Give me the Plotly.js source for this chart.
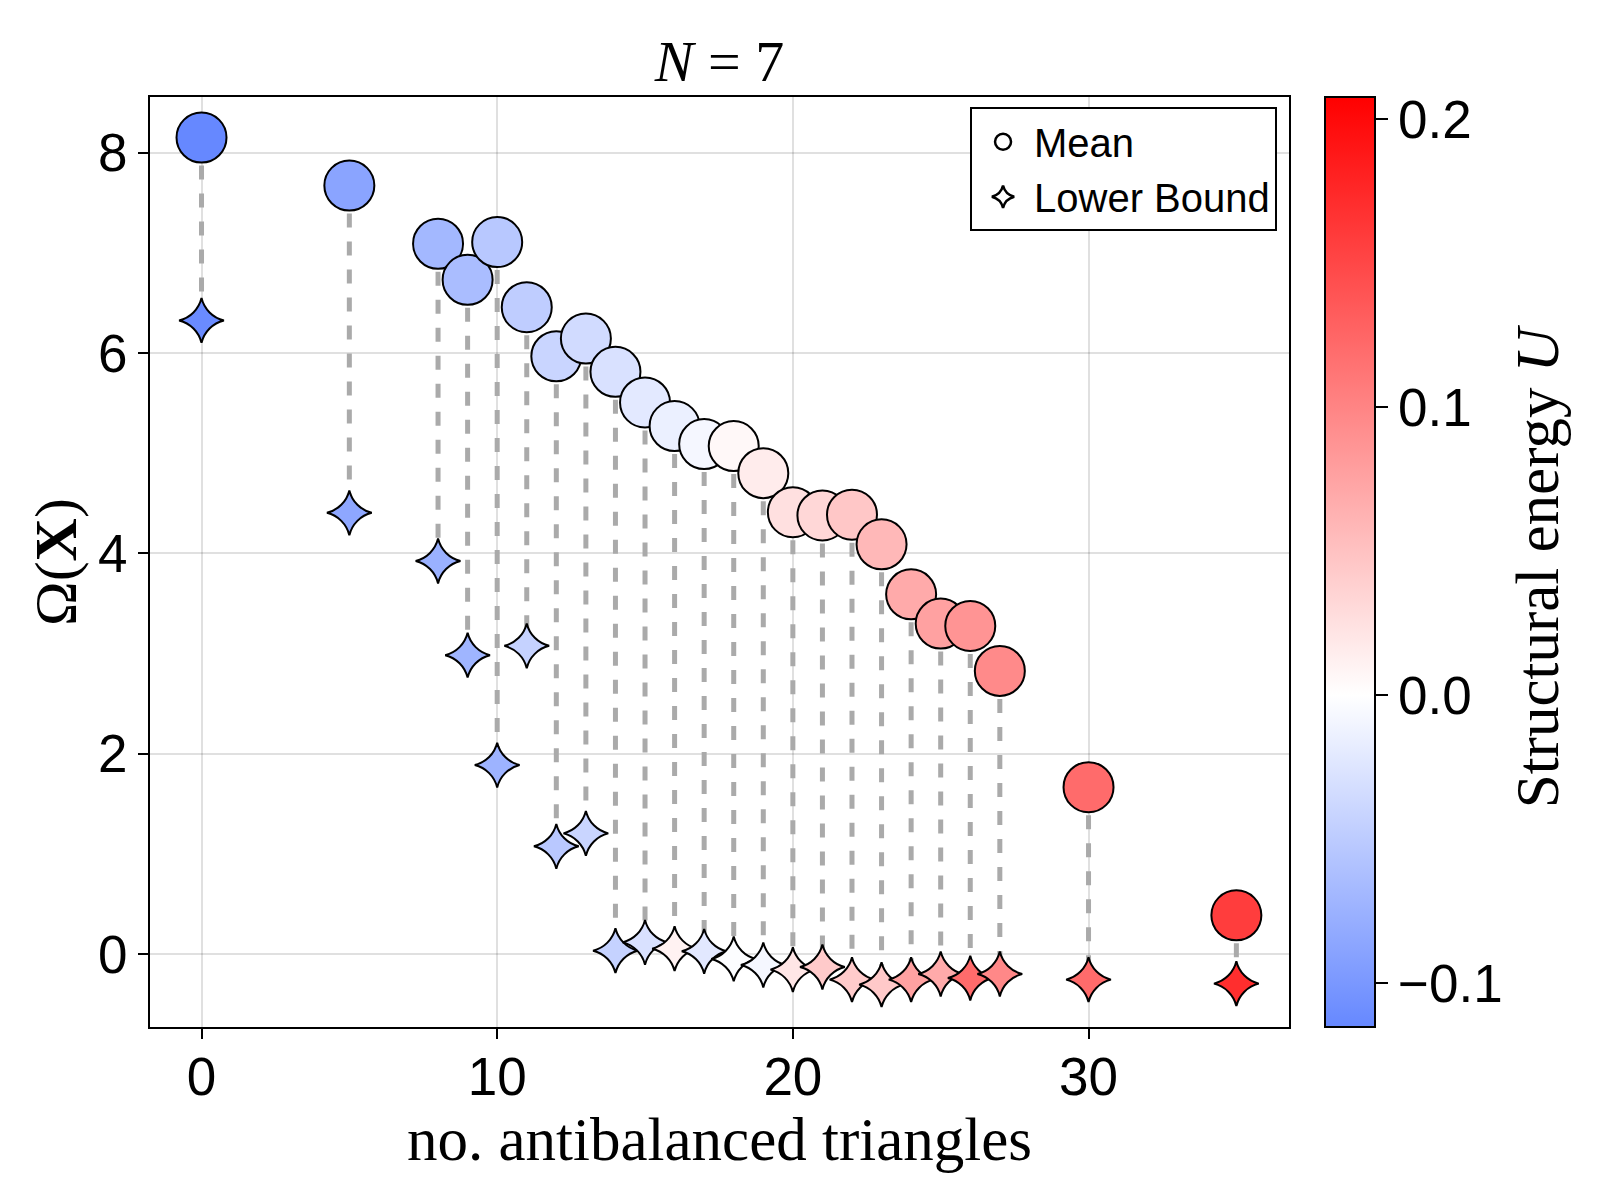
<!DOCTYPE html>
<html>
<head>
<meta charset="utf-8">
<script src="https://cdn.plot.ly/plotly-3.0.1.min.js"></script>
<style>html,body{margin:0;padding:0;background:#fff;}#chart{width:1600px;height:1200px;}</style>
</head>
<body>
<div id="chart"></div>
<script>
// number of antibalanced triangles
const triangles = [0, 5, 8, 9, 10, 11, 12, 13, 14, 15, 16, 17, 18, 19, 20, 21, 22, 23, 24, 25, 26, 27, 30, 35];
// mean Omega(X)
const meanOmega = [8.15, 7.671, 7.09, 6.73, 7.107, 6.457, 5.967, 6.144, 5.811, 5.506, 5.27, 5.09, 5.07, 4.80, 4.41, 4.378, 4.385, 4.09, 3.59, 3.298, 3.275, 2.826, 1.665, 0.386];
// lower bound Omega(X)
const lowerOmega = [6.324, 4.404, 3.923, 2.983, 1.886, 3.076, 1.075, 1.204, 0.033, 0.116, 0.053, 0.027, -0.05, -0.11, -0.156, -0.13, -0.256, -0.306, -0.256, -0.2, -0.24, -0.2, -0.256, -0.296];
// structural energy U (colour) of mean configurations
const meanEnergy = [-0.115, -0.088, -0.069, -0.064, -0.0535, -0.048, -0.041, -0.035, -0.029, -0.021, -0.015, -0.0075, 0.0057, 0.0155, 0.025, 0.033, 0.046, 0.058, 0.069, 0.077, 0.087, 0.095, 0.121, 0.158];
// structural energy U (colour) of lower-bound configurations
const lowerEnergy = [-0.112, -0.085, -0.076, -0.072, -0.074, -0.044, -0.053, -0.041, -0.044, -0.029, 0.011, -0.022, -0.002, -0.0075, 0.020, 0.043, 0.042, 0.044, 0.077, 0.069, 0.121, 0.097, 0.121, 0.170];
// colour range and ticks of the colour bar
const energyRange = [-0.1153, 0.2078];
const energyTicks = [-0.1, 0.0, 0.1, 0.2];
const energyTickText = ['\u22120.1', '0.0', '0.1', '0.2'];
const xTicks = [0, 10, 20, 30];
const yTicks = [0, 2, 4, 6, 8];
const seriesNames = ['Mean', 'Lower Bound'];

const whiteAt = (0 - energyRange[0]) / (energyRange[1] - energyRange[0]);
const colorscale = [[0, 'rgb(102,136,255)'], [whiteAt, 'rgb(255,255,255)'], [1, 'rgb(255,0,0)']];

// dashed connectors built from the data
const connX = [], connY = [];
triangles.forEach((t, i) => { connX.push(t, t, null); connY.push(meanOmega[i], lowerOmega[i], null); });

const sans = 'Liberation Sans, Arial, sans-serif';
const serif = 'Liberation Serif, Times New Roman, serif';

const traces = [
  { type: 'scatter', mode: 'lines', x: connX, y: connY, showlegend: false, hoverinfo: 'skip',
    line: { color: '#aaaaaa', width: 5, dash: '14px,14px' } },
  { type: 'scatter', mode: 'markers', name: seriesNames[1], x: triangles, y: lowerOmega, showlegend: false,
    marker: { symbol: 'star-diamond', size: 32, color: lowerEnergy, coloraxis: 'coloraxis',
      line: { color: '#000', width: 2 } } },
  { type: 'scatter', mode: 'markers', name: seriesNames[0], x: triangles, y: meanOmega, showlegend: false,
    marker: { symbol: 'circle', size: 50, color: meanEnergy, coloraxis: 'coloraxis',
      line: { color: '#000', width: 2 } } },
  // legend entries (hollow symbols, as in the reference legend)
  { type: 'scatter', mode: 'markers', name: seriesNames[0], x: [null], y: [null], showlegend: true,
    marker: { symbol: 'circle', size: 16, color: '#fff', line: { color: '#000', width: 2.5 } } },
  { type: 'scatter', mode: 'markers', name: seriesNames[1], x: [null], y: [null], showlegend: true,
    marker: { symbol: 'star-diamond', size: 16, color: '#fff', line: { color: '#000', width: 2.5 } } }
];

const layout = {
  width: 1600, height: 1200,
  paper_bgcolor: '#fff', plot_bgcolor: '#fff',
  margin: { l: 150, r: 311, t: 97, b: 173 },
  title: { text: '<i>N</i> = 7', font: { family: serif, size: 58, color: '#000' },
    x: 0.5, xref: 'paper', y: 1 - 61 / 1200, yref: 'container', yanchor: 'middle' },
  xaxis: {
    range: [-1.742, 36.78], tickvals: xTicks, ticks: 'outside', ticklen: 10, tickwidth: 2, tickcolor: '#000',
    ticklabelstandoff: -8,
    showline: true, linecolor: '#000', linewidth: 2, mirror: true, zeroline: false,
    showgrid: true, gridcolor: 'rgba(0,0,0,0.12)', gridwidth: 2,
    tickfont: { family: sans, size: 53, color: '#000' },
    title: { text: 'no. antibalanced triangles', font: { family: serif, size: 61, color: '#000' }, standoff: 12 }
  },
  yaxis: {
    range: [-0.729, 8.555], tickvals: yTicks, ticks: 'outside', ticklen: 10, tickwidth: 2, tickcolor: '#000',
    showline: true, linecolor: '#000', linewidth: 2, mirror: true, zeroline: false,
    showgrid: true, gridcolor: 'rgba(0,0,0,0.12)', gridwidth: 2,
    tickfont: { family: sans, size: 53, color: '#000' },
    title: { text: '\u03A9(<b>X</b>)', font: { family: serif, size: 60, color: '#000' }, standoff: 2 }
  },
  coloraxis: {
    cmin: energyRange[0], cmax: energyRange[1], colorscale: colorscale,
    colorbar: {
      x: 1.0316, xanchor: 'left', xref: 'paper', y: 0.5, yanchor: 'middle', len: 1, lenmode: 'fraction',
      thickness: 50, thicknessmode: 'pixels', xpad: 0, ypad: 0,
      outlinecolor: '#000', outlinewidth: 2,
      tickvals: energyTicks, ticktext: energyTickText, ticks: 'outside', ticklen: 12, tickwidth: 2, tickcolor: '#000',
      tickfont: { family: sans, size: 53, color: '#000' }
    }
  },
  legend: {
    x: 0.9895, xanchor: 'right', y: 0.989, yanchor: 'top', traceorder: 'normal', itemwidth: 52,
    bgcolor: '#fff', bordercolor: '#000', borderwidth: 2,
    font: { family: sans, size: 40, color: '#000' }
  },
  annotations: [
    { text: 'Structural energy <i>U</i>', textangle: -90, showarrow: false,
      xref: 'paper', yref: 'paper', x: 1.2178, y: 0.4955, xanchor: 'center', yanchor: 'middle',
      font: { family: serif, size: 61, color: '#000' } }
  ]
};

Plotly.newPlot('chart', traces, layout, { displayModeBar: false, staticPlot: true });
</script>
</body>
</html>
